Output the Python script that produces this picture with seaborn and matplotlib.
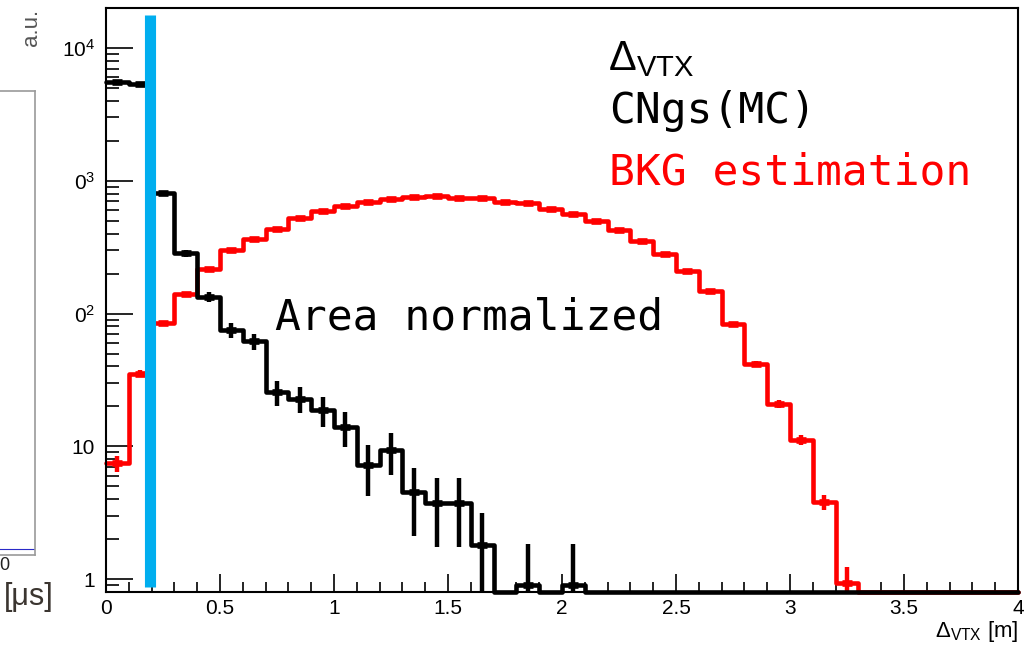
import numpy as np
import pandas as pd
import matplotlib
matplotlib.use("Agg")
import matplotlib.pyplot as plt
import seaborn as sns

# 数据: 0-4 m, 每个bin宽0.1 m
bin_edges = [round(0.1 * i, 2) for i in range(41)]
bin_centers = [round(0.1 * i + 0.05, 3) for i in range(40)]

cngs_mc = [5550, 5360, 804, 284, 134, 75, 62, 25.6, 22.9, 18.7,
           14.0, 7.2, 9.4, 4.5, 3.74, 3.74, 1.8, 0, 0.9, 0,
           0.9, 0, 0, 0, 0, 0, 0, 0, 0, 0,
           0, 0, 0, 0, 0, 0, 0, 0, 0, 0]
cngs_mc_err = [80, 78, 30, 18, 12.5, 9.3, 8.5, 5.5, 5.1, 4.7,
               4.1, 3.0, 3.3, 2.4, 2.0, 2.0, 1.35, 0, 0.95, 0,
               0.95, 0, 0, 0, 0, 0, 0, 0, 0, 0,
               0, 0, 0, 0, 0, 0, 0, 0, 0, 0]

bkg_est = [7.45, 35.3, 85.5, 141, 218, 299, 367, 437, 520, 589,
           646, 691, 728, 750, 771, 745, 736, 695, 676, 609,
           562, 500, 425, 353, 280, 208, 149, 84, 42, 21,
           11.2, 3.8, 0.94, 0, 0, 0, 0, 0, 0, 0]
bkg_est_err = [1.0, 2.0, 3.0, 3.8, 4.6, 5.3, 6.0, 6.5, 7.0, 7.5,
               8.0, 8.3, 8.5, 8.6, 8.8, 8.6, 8.5, 8.3, 8.2, 7.8,
               7.5, 7.0, 6.5, 5.9, 5.3, 4.6, 3.9, 2.9, 2.0, 1.4,
               1.0, 0.5, 0.3, 0, 0, 0, 0, 0, 0, 0]

cut_position = 0.194
x_ticks = [0, 0.5, 1, 1.5, 2, 2.5, 3, 3.5, 4]
x_tick_labels = ['0', '0.5', '1', '1.5', '2', '2.5', '3', '3.5', '4']
y_ticks = [1, 10, 100, 1000, 10000]
y_tick_labels = ['1', '10', r'$0^{2}$', r'$0^{3}$', r'$10^{4}$']

y_low, y_high = 0.8, 2.0e4

sns.set_style('ticks')
plt.rcParams['font.family'] = ['Liberation Sans', 'DejaVu Sans']
plt.rcParams['mathtext.fontset'] = 'custom'
plt.rcParams['mathtext.rm'] = 'Liberation Sans'
plt.rcParams['mathtext.it'] = 'Liberation Sans:italic'
plt.rcParams['mathtext.bf'] = 'Liberation Sans:bold'
plt.rcParams['text.color'] = 'black'
plt.rcParams['xtick.color'] = 'black'
plt.rcParams['ytick.color'] = 'black'

fig = plt.figure(figsize=(10.26, 6.46), dpi=100)

# 左侧被截掉的另一张图的残余部分
ax_left = fig.add_axes([-0.01, (646 - 555) / 646, (35 + 10) / 1026, (555 - 91) / 646])
ax_left.set_xlim(0, 1)
ax_left.set_ylim(0, 1)
ax_left.axhline(0.013, color='#2a2ac8', lw=0.8)
ax_left.set_xticks([])
ax_left.set_yticks([])
for sp in ax_left.spines.values():
    sp.set_color('#9a9a9a')
    sp.set_linewidth(1.2)
fig.text(4 / 1026, 1 - 566 / 646, '0', fontsize=13, ha='center', va='center', color='#222222')
fig.text(4 / 1026, 1 - 605 / 646, '[μs]', fontsize=22, ha='left', va='baseline', color='#3b3530')
fig.text(32 / 1026, 1 - 27 / 646, 'a.u.', fontsize=16, rotation=90, ha='center', va='center', color='#555555')

# 主图
ax = fig.add_axes([106 / 1026, (646 - 592) / 646, 912 / 1026, 584 / 646])

df = pd.DataFrame({
    'center': bin_centers,
    'cngs': cngs_mc,
    'bkg': bkg_est,
})
# 零值bin画在坐标轴底部 (ROOT风格)
df['cngs_draw'] = np.where(df['cngs'] > 0, df['cngs'], y_low)
df['bkg_draw'] = np.where(df['bkg'] > 0, df['bkg'], y_low)

hist_lw = 3.3
sns.histplot(data=df, x='center', weights='bkg_draw', bins=bin_edges, element='step',
             fill=False, color='#ff0000', linewidth=hist_lw, ax=ax)
ax.lines[-1].set_clip_on(False)
ax.lines[-1].set_zorder(2.0)
sns.histplot(data=df, x='center', weights='cngs_draw', bins=bin_edges, element='step',
             fill=False, color='black', linewidth=hist_lw, ax=ax)
ax.lines[-1].set_clip_on(False)
ax.lines[-1].set_zorder(2.2)

ax.set_yscale('log')

for col, err, color, z in [('bkg', bkg_est_err, '#ff0000', 2.1), ('cngs', cngs_mc_err, 'black', 2.3)]:
    mask = df[col] > 0
    ax.errorbar(df.loc[mask, 'center'], df.loc[mask, col], yerr=np.array(err)[mask.values],
                fmt='none', ecolor=color, elinewidth=3.2, capsize=0, zorder=z)
    ax.plot(df.loc[mask, 'center'], df.loc[mask, col], ls='none', marker='_',
            ms=7.5, mew=4.8, color=color, zorder=z)

# 蓝色竖线 (cut)
ax.vlines(cut_position, 0.87, 17700, color='#00aeef', lw=8, capstyle='butt', zorder=5)

ax.set_xlim(0, 4)
ax.set_ylim(y_low, y_high)
ax.set_xlabel('')
ax.set_ylabel('')

ax.set_xticks(x_ticks)
ax.set_xticklabels(x_tick_labels)
ax.set_xticks([round(0.1 * i, 2) for i in range(41)], minor=True)
ax.set_yticks(y_ticks)
ax.set_yticklabels(y_tick_labels)
ax.yaxis.set_minor_locator(matplotlib.ticker.LogLocator(base=10, subs=np.arange(2, 10)))
ax.yaxis.set_minor_formatter(matplotlib.ticker.NullFormatter())

ax.tick_params(axis='x', which='major', direction='in', length=13, width=1.2, labelsize=15, pad=5)
ax.tick_params(axis='x', which='minor', direction='in', length=7, width=1.2)
ax.tick_params(axis='y', which='major', direction='in', length=19.5, width=1.2, labelsize=15, pad=8)
ax.tick_params(axis='y', which='minor', direction='in', length=9.5, width=1.2)
ax.tick_params(top=False, right=False, which='both')

for sp in ax.spines.values():
    sp.set_visible(True)
    sp.set_linewidth(1.5)
    sp.set_color('black')

# 文字
ax.text(1.0, -0.077, r'$\Delta_{\mathrm{VTX}}$ [m]', transform=ax.transAxes,
        ha='right', va='baseline', fontsize=16, color='black')
ax.text(0.5504, 0.894, r'$\Delta_{\mathrm{VTX}}$', transform=ax.transAxes,
        ha='left', va='baseline', fontsize=30, color='black')
ax.text(0.552, 0.803, 'CNgs(MC)', transform=ax.transAxes, family='DejaVu Sans Mono',
        ha='left', va='baseline', fontsize=31, color='black')
ax.text(0.552, 0.697, 'BKG estimation', transform=ax.transAxes, family='DejaVu Sans Mono',
        ha='left', va='baseline', fontsize=31, color='#ff0000')
ax.text(0.185, 0.450, 'Area normalized', transform=ax.transAxes, family='DejaVu Sans Mono',
        ha='left', va='baseline', fontsize=31, color='black')

fig.savefig('out.png', dpi=100)
plt.close(fig)
